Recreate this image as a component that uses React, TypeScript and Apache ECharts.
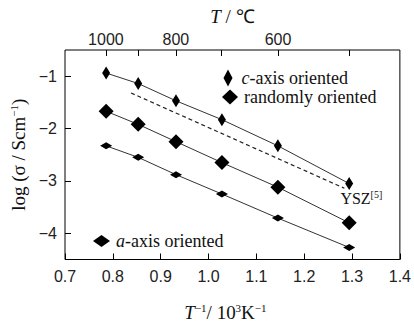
import React, { useEffect, useRef } from "react";
import * as echarts from "echarts";

// Data
const temperaturesC = [1000, 900, 800, 700, 600, 500];
const labeledTemperaturesC = [1000, 800, 600];
const invT = [0.786, 0.853, 0.932, 1.028, 1.145, 1.294];
const cAxisValues = [-0.94, -1.14, -1.47, -1.83, -2.33, -3.05];
const randomValues = [-1.67, -1.92, -2.25, -2.65, -3.12, -3.8];
const aAxisValues = [-2.33, -2.55, -2.88, -3.25, -3.71, -4.27];
const yszX = [0.838, 1.284];
const yszY = [-1.32, -3.14];
const xTickLabels = ["0.7", "0.8", "0.9", "1.0", "1.1", "1.2", "1.3", "1.4"];
const legendLabels = ["{i|c}{n|-axis oriented}", "{n|randomly oriented}", "{i|a}{n|-axis oriented}"];

const SANS = "Liberation Sans";
const SERIF = "Liberation Serif";
const toInv = (t: number) => 1000 / (t + 273.15);

const richBase = {
  n: { fontFamily: SERIF, fontSize: 19, color: "#111" },
  i: { fontFamily: SERIF, fontSize: 19, fontStyle: "italic", color: "#111" },
  s: { fontFamily: SERIF, fontSize: 11, color: "#111", padding: [0, 0, 9, 0] },
};
const legendRich = {
  n: { fontFamily: SERIF, fontSize: 18, lineHeight: 15, color: "#111" },
  i: { fontFamily: SERIF, fontSize: 18, lineHeight: 15, fontStyle: "italic", color: "#111" },
};

// legend key drawn as a pixel-positioned markPoint so its label uses series text styling
function legendKey(text: string, px: number, py: number, size: number[], gap: number) {
  return {
    silent: true,
    symbol: "diamond",
    symbolSize: size,
    itemStyle: { color: "#000" },
    label: {
      show: true,
      position: "right",
      distance: gap,
      formatter: text,
      rich: legendRich,
    },
    data: [{ name: "key", x: px, y: py }],
  };
}

export default function App() {
  const ref = useRef<HTMLDivElement>(null);
  useEffect(() => {
    if (!ref.current) return;
    const chart = echarts.init(ref.current, null, { renderer: "svg" });
    const pts = (ys: number[]) => invT.map((x, i) => [x, ys[i]]);
    const baseLine = {
      type: "line",
      lineStyle: { color: "#333", width: 1 },
      itemStyle: { color: "#000" },
      symbol: "diamond",
      showAllSymbol: true,
      z: 3,
    };
    chart.setOption({
      animation: false,
      backgroundColor: "#fff",
      grid: {
        left: 65,
        right: 12,
        top: 50,
        bottom: 47,
        show: true,
        borderColor: "#000",
        borderWidth: 1,
      },
      xAxis: [
        {
          type: "value",
          min: 0.7,
          max: 1.4,
          interval: 0.1,
          position: "bottom",
          axisLine: { show: false },
          splitLine: { show: false },
          axisTick: { show: true, inside: true, length: 6, lineStyle: { color: "#000" } },
          axisLabel: {
            fontFamily: SANS,
            fontSize: 16,
            color: "#222",
            margin: 9,
            formatter: (v: number) => {
              const idx = Math.round((v - 0.7) * 10);
              return xTickLabels[idx] ?? v.toFixed(1);
            },
          },
          name: "{i|T}{s|−1}{n|/ 10}{s|3}{n|K}{s|−1}",
          nameLocation: "middle",
          nameGap: 43,
          nameTextStyle: { rich: richBase, padding: [0, 14, 0, 0] },
        },
        {
          type: "value",
          min: 0.7,
          max: 1.4,
          position: "top",
          axisLine: { show: false },
          splitLine: { show: false },
          axisTick: {
            show: true,
            inside: true,
            length: 6,
            lineStyle: { color: "#000" },
            customValues: temperaturesC.map(toInv),
          },
          axisLabel: {
            fontFamily: SANS,
            fontSize: 16,
            color: "#222",
            margin: 3,
            customValues: labeledTemperaturesC.map(toInv),
            formatter: (v: number) => String(Math.round(1000 / v - 273.15)),
          },
          name: "{i|T}{n| / ℃}",
          nameLocation: "middle",
          nameGap: 20,
          nameTextStyle: { rich: richBase },
        },
      ],
      yAxis: {
        type: "value",
        min: -4.5,
        max: -0.5,
        splitNumber: 4,
        axisLine: { show: false },
        splitLine: { show: false },
        axisTick: { show: true, inside: true, length: 6, lineStyle: { color: "#000" } },
        axisLabel: {
          fontFamily: SANS,
          fontSize: 16,
          color: "#222",
          margin: 8,
          showMinLabel: false,
          showMaxLabel: false,
          formatter: (v: number) =>
            Math.abs(v - Math.round(v)) > 1e-6 ? "" : v < 0 ? "−" + Math.abs(v) : String(v),
        },
        name: "{n|log (σ / Scm}{s|−1}{n|)}",
        nameLocation: "middle",
        nameRotate: 90,
        nameGap: 36,
        nameTextStyle: { rich: richBase },
      },
      series: [
        {
          ...baseLine,
          name: "c-axis oriented",
          symbolSize: [8, 13],
          data: pts(cAxisValues),
          markPoint: legendKey(legendLabels[0], 228, 78, [9, 17], 9),
        },
        {
          ...baseLine,
          name: "randomly oriented",
          symbolSize: [15, 15],
          data: pts(randomValues),
          markPoint: legendKey(legendLabels[1], 230, 97, [16, 15], 6),
        },
        {
          ...baseLine,
          name: "a-axis oriented",
          symbolSize: [12, 7],
          data: pts(aAxisValues),
          markPoint: legendKey(legendLabels[2], 101.5, 241, [17, 12], 6),
        },
        {
          type: "line",
          name: "YSZ",
          symbol: "none",
          lineStyle: { color: "#222", width: 1.2, type: [4, 3] },
          data: yszX.map((x, i) => [x, yszY[i]]),
          endLabel: {
            show: true,
            formatter: "{n|YSZ}{s|[5]}",
            offset: [-12, 10],
            rich: {
              n: { fontFamily: SERIF, fontSize: 16, color: "#111" },
              s: { fontFamily: SERIF, fontSize: 10, color: "#111", padding: [0, 0, 8, 0] },
            },
          },
          z: 2,
        },
      ],
    });
    return () => chart.dispose();
  }, []);
  return (
    <div
      ref={ref}
      style={{ position: "fixed", left: 0, top: 0, width: 414, height: 327, background: "#fff" }}
    />
  );
}
